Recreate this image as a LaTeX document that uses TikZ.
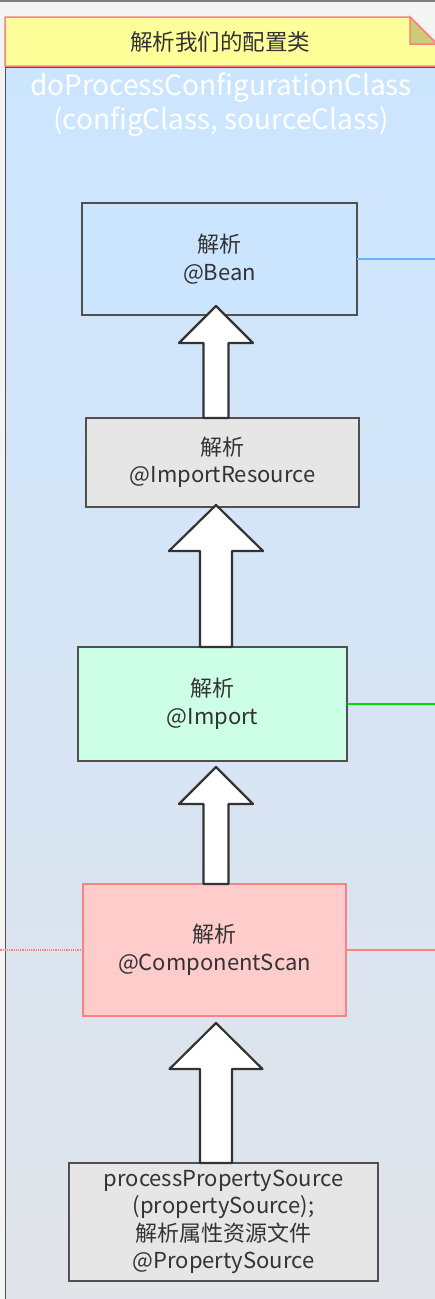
\documentclass[tikz,border=0pt]{standalone}
\usepackage{fontspec}
\setmainfont{Noto Sans CJK SC}
\usetikzlibrary{positioning,calc}
\definecolor{outbg}{HTML}{F4F4F4}
\definecolor{contop}{HTML}{CCE5FF}
\definecolor{conbot}{HTML}{E1E4E9}
\definecolor{boxline}{HTML}{505050}
\definecolor{txtgray}{HTML}{333333}
\definecolor{notefill}{HTML}{FFFF99}
\definecolor{noteline}{HTML}{FF8080}
\definecolor{foldfill}{HTML}{CCCC77}
\definecolor{beanfill}{HTML}{CCE5FF}
\definecolor{resfill}{HTML}{E6E6E6}
\definecolor{impfill}{HTML}{CCFFE6}
\definecolor{scanfill}{HTML}{FFCCCC}
\definecolor{scanline}{HTML}{FF8080}
\definecolor{bluelink}{HTML}{66B2FF}
\definecolor{greenlink}{HTML}{00DD00}
\tikzset{box/.style={draw=boxline, line width=1.3pt, text=txtgray, align=center, inner sep=0pt, outer sep=0pt, font=\fontsize{22}{27.5}\selectfont}}
\tikzset{bigarr/.style={draw=black!80, fill=white, line width=2.2pt, line join=round}}
\newcommand{\bigup}[6]{% lower, upper, half shaft, half head, head length, tip overlap
  \draw[bigarr] let \p0=(axis), \p1=(#1.north), \p2=(#2.south) in
    ({\x0-#3pt},\y1) -- ({\x0-#3pt},{\y2+(#6pt)-#5pt}) -- ({\x0-#4pt},{\y2+(#6pt)-#5pt})
    -- (\x0,{\y2+(#6pt)}) -- ({\x0+#4pt},{\y2+(#6pt)-#5pt}) -- ({\x0+#3pt},{\y2+(#6pt)-#5pt})
    -- ({\x0+#3pt},\y1) -- cycle;}

\begin{document}
\begin{tikzpicture}[x=1pt,y=1pt]
    \useasboundingbox (0,0) rectangle (435,-1299);
    \fill[outbg] (0,0) rectangle (435,-1299);
    \draw[gray, line width=1.5pt] (0,-0.75) -- (435,-0.75);

    % the method frame
    \shade[top color=contop, bottom color=conbot] (5,-67) rectangle (445,-1310);
    \draw[boxline, line width=1pt] (5,-1310) -- (5,-67) -- (445,-67);
    \node[text=white, align=center, font=\fontsize{28}{34}\selectfont] (title) at (221,-105)
        {doProcessConfigurationClass\\(configClass, sourceClass)};

    % note
    \filldraw[fill=notefill, draw=noteline, line width=1.5pt]
        (5,-17) -- (410,-17) -- (437,-44) -- (437,-66) -- (5,-66) -- cycle;
    \filldraw[fill=foldfill, draw=noteline, line width=1.5pt]
        (410,-17) -- (410,-44) -- (437,-44) -- cycle;
    \node[text=txtgray, font=\fontsize{22.5}{26}\selectfont] (note) at (220,-42) {解析我们的配置类};

    % steps
    \node[box, fill=beanfill, minimum width=275pt, minimum height=112pt] (bean) at (219.5,-259) {解析\\@Bean};
    \node[box, fill=resfill, minimum width=273pt, minimum height=89pt, below=103pt of bean, xshift=3pt] (importres) {解析\\@ImportResource};
    \node[box, fill=impfill, minimum width=269pt, minimum height=114pt, below=140pt of importres, xshift=-10pt] (import) {解析\\@Import};
    \node[box, fill=scanfill, draw=scanline, minimum width=263pt, minimum height=132pt, below=123pt of import, xshift=2pt] (compscan) {解析\\@ComponentScan};
    \node[box, fill=resfill, minimum width=309pt, minimum height=118pt, below=147pt of compscan, xshift=9pt] (propsrc)
        {processPropertySource\\(propertySource);\\解析属性资源文件\\@PropertySource};

    % links leaving the frame
    \coordinate (rightedge) at (440,0);
    \coordinate (leftedge) at (0,0);
    \draw[bluelink, line width=1.5pt] (bean.east) -- (bean.east -| rightedge);
    \draw[greenlink, line width=1.5pt] (import.east) -- (import.east -| rightedge);
    \draw[scanline, line width=1.5pt] (compscan.east) -- (compscan.east -| rightedge);
    \draw[scanline, line width=1.2pt, densely dotted] (compscan.west) -- (compscan.west -| leftedge);

    % block arrows
    \coordinate (axis) at (216,0);
    \bigup{importres}{bean}{12.5}{37}{37}{9}
    \bigup{import}{importres}{16}{47}{46}{2}
    \bigup{compscan}{import}{12.5}{37}{37}{-6}
    \bigup{propsrc}{compscan}{16}{46.5}{46}{-7}
\end{tikzpicture}
\end{document}
